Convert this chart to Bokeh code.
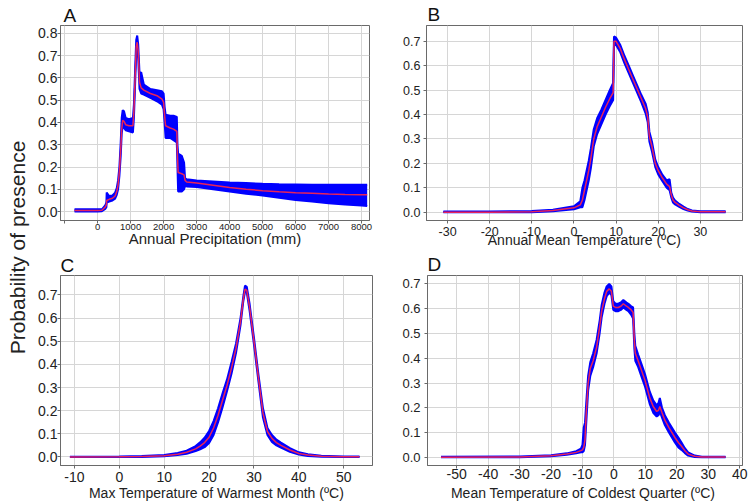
from math import pi
from bokeh.plotting import figure
from bokeh.layouts import row, column
from bokeh.models import FixedTicker, PrintfTickFormatter, Label, Range1d
from bokeh.embed import file_html
from bokeh.resources import INLINE

FONT = "Liberation Sans"
BLUE = "#0000ff"
RED = "#e8235a"

# ---------------- Panel A : Annual Precipitation ----------------
a_x = [-700, 0, 130, 230, 265, 275, 350, 450, 530, 580,
       620, 660, 700, 730, 760, 800, 850, 950, 1070, 1100,
       1140, 1170, 1200, 1230, 1270, 1320, 1400, 1600, 1800, 1950,
       2000, 2030, 2060, 2200, 2300, 2400, 2420, 2440, 2550, 2620,
       2650, 2700, 3000, 3500, 4000, 4500, 5000, 5500, 6000, 6500,
       7000, 7500, 8000, 8170]
a_mean = [0.005, 0.005, 0.006, 0.02, 0.03, 0.05, 0.055, 0.06, 0.07, 0.09,
          0.12, 0.18, 0.28, 0.37, 0.41, 0.405, 0.39, 0.385, 0.385, 0.45,
          0.62, 0.74, 0.76, 0.72, 0.58, 0.555, 0.545, 0.53, 0.52, 0.505,
          0.49, 0.43, 0.385, 0.375, 0.37, 0.36, 0.25, 0.175, 0.17, 0.165,
          0.14, 0.133, 0.128, 0.118, 0.108, 0.10, 0.094, 0.089, 0.085, 0.082,
          0.079, 0.077, 0.076, 0.076]
a_lower = [0.0, 0.0, 0.002, 0.012, 0.02, 0.04, 0.045, 0.05, 0.058, 0.075,
           0.10, 0.16, 0.25, 0.35, 0.385, 0.375, 0.365, 0.36, 0.355, 0.42,
           0.59, 0.71, 0.735, 0.69, 0.55, 0.53, 0.525, 0.51, 0.495, 0.48,
           0.46, 0.40, 0.33, 0.33, 0.32, 0.31, 0.20, 0.09, 0.09, 0.10,
           0.115, 0.113, 0.11, 0.10, 0.09, 0.08, 0.072, 0.062, 0.052, 0.045,
           0.037, 0.032, 0.027, 0.025]
a_upper = [0.01, 0.01, 0.01, 0.028, 0.04, 0.085, 0.07, 0.072, 0.085, 0.105,
           0.14, 0.20, 0.31, 0.42, 0.455, 0.45, 0.42, 0.415, 0.42, 0.48,
           0.65, 0.77, 0.79, 0.75, 0.62, 0.625, 0.57, 0.55, 0.545, 0.54,
           0.53, 0.47, 0.435, 0.43, 0.43, 0.425, 0.30, 0.26, 0.25, 0.22,
           0.15, 0.145, 0.14, 0.135, 0.13, 0.128, 0.125, 0.123, 0.122, 0.12,
           0.12, 0.12, 0.12, 0.12]
a_xticks = [-1000, 0, 1000, 2000, 3000, 4000, 5000, 6000, 7000, 8000]
a_yticks = [0.0, 0.1, 0.2, 0.3, 0.4, 0.5, 0.6, 0.7, 0.8]
a_title = "Annual Precipitation (mm)"

# ---------------- Panel B : Annual Mean Temperature ----------------
b_x = [-31, -20, -10, -5, 0, 1.5, 2.0, 2.5, 3.0, 3.5,
       4.0, 4.7, 5.5, 6.5, 7.5, 8.5, 9.3, 9.5, 10, 11,
       12, 13, 14, 15, 16, 17, 17.5, 17.9, 18.5, 19.3,
       20, 21, 22, 22.7, 23.1, 23.5, 24, 25, 26, 27,
       28, 30, 36]
b_mean = [0.0, 0.0, 0.002, 0.007, 0.018, 0.03, 0.05, 0.09, 0.13, 0.17,
          0.22, 0.30, 0.35, 0.39, 0.43, 0.465, 0.49, 0.70, 0.70, 0.67,
          0.625, 0.585, 0.545, 0.505, 0.465, 0.425, 0.39, 0.31, 0.27, 0.20,
          0.17, 0.14, 0.115, 0.105, 0.07, 0.05, 0.04, 0.028, 0.018, 0.01,
          0.005, 0.002, 0.002]
b_lower = [0.0, 0.0, 0.0, 0.004, 0.012, 0.02, 0.02, 0.05, 0.09, 0.13,
           0.18, 0.27, 0.32, 0.36, 0.40, 0.435, 0.46, 0.685, 0.685, 0.655,
           0.61, 0.57, 0.53, 0.49, 0.45, 0.405, 0.37, 0.29, 0.25, 0.185,
           0.155, 0.127, 0.10, 0.09, 0.06, 0.04, 0.032, 0.022, 0.013, 0.007,
           0.003, 0.0, 0.0]
b_upper = [0.003, 0.003, 0.005, 0.01, 0.024, 0.045, 0.10, 0.13, 0.17, 0.21,
           0.26, 0.34, 0.385, 0.42, 0.46, 0.50, 0.53, 0.72, 0.715, 0.685,
           0.64, 0.60, 0.56, 0.52, 0.48, 0.445, 0.41, 0.33, 0.29, 0.215,
           0.185, 0.153, 0.13, 0.135, 0.08, 0.06, 0.048, 0.034, 0.023, 0.013,
           0.007, 0.004, 0.004]
b_xticks = [-30, -20, -10, 0, 10, 20, 30]
b_yticks = [0.0, 0.1, 0.2, 0.3, 0.4, 0.5, 0.6, 0.7]
b_title = "Annual Mean Temperature (ºC)"

# ---------------- Panel C : Max Temperature of Warmest Month ----------------
c_x = [-11, 0, 5, 10, 13, 15, 17, 18, 19, 20,
       21, 22, 23, 24, 25, 26, 27, 27.6, 28, 28.4,
       29, 30, 31, 32, 33, 34, 35, 36, 38, 40,
       42, 45, 50, 53.5]
c_mean = [0.0, 0.001, 0.002, 0.005, 0.012, 0.02, 0.035, 0.047, 0.062, 0.085,
          0.125, 0.18, 0.245, 0.31, 0.385, 0.47, 0.585, 0.68, 0.725, 0.72,
          0.65, 0.50, 0.34, 0.19, 0.11, 0.08, 0.062, 0.05, 0.03, 0.015,
          0.008, 0.003, 0.001, 0.001]
c_lower = [0.0, 0.0, 0.0, 0.003, 0.008, 0.014, 0.025, 0.033, 0.042, 0.06,
           0.095, 0.15, 0.215, 0.285, 0.36, 0.45, 0.57, 0.67, 0.715, 0.71,
           0.635, 0.485, 0.325, 0.17, 0.095, 0.065, 0.05, 0.04, 0.022, 0.01,
           0.004, 0.001, 0.0, 0.0]
c_upper = [0.001, 0.002, 0.004, 0.008, 0.017, 0.027, 0.047, 0.063, 0.083, 0.112,
           0.155, 0.21, 0.275, 0.335, 0.41, 0.49, 0.60, 0.69, 0.74, 0.735,
           0.665, 0.515, 0.355, 0.21, 0.125, 0.095, 0.075, 0.062, 0.038, 0.02,
           0.012, 0.005, 0.002, 0.002]
c_xticks = [-10, 0, 10, 20, 30, 40, 50]
c_yticks = [0.0, 0.1, 0.2, 0.3, 0.4, 0.5, 0.6, 0.7]
c_title = "Max Temperature of Warmest Month (ºC)"

# ---------------- Panel D : Mean Temperature of Coldest Quarter ----------------
d_x = [-55, -30, -20, -15, -12, -10.5, -10, -9.6, -9.2, -8.8,
       -8.2, -7.5, -6.6, -5.5, -4.5, -3.9, -3.0, -2.3, -1.5, -0.8,
       -0.2, 0.5, 1.4, 2.2, 3.0, 4.0, 4.6, 5.5, 6.1, 6.5,
       6.8, 7.7, 8.8, 9.9, 11.4, 12.5, 13.6, 14.2, 14.6, 15.3,
       16.2, 17.5, 19.4, 20.5, 21.5, 22.5, 23.6, 25.7, 28, 30,
       35.5]
d_mean = [0.0, 0.001, 0.006, 0.013, 0.02, 0.027, 0.03, 0.04, 0.07, 0.18,
          0.30, 0.36, 0.39, 0.445, 0.53, 0.59, 0.64, 0.67, 0.68, 0.67,
          0.61, 0.605, 0.605, 0.61, 0.62, 0.61, 0.605, 0.595, 0.585, 0.47,
          0.42, 0.39, 0.35, 0.31, 0.24, 0.205, 0.185, 0.19, 0.205, 0.18,
          0.15, 0.12, 0.08, 0.06, 0.045, 0.028, 0.013, 0.004, 0.001, 0.001,
          0.001]
d_lower = [0.0, 0.0, 0.004, 0.01, 0.016, 0.02, 0.02, 0.025, 0.05, 0.14,
           0.27, 0.33, 0.365, 0.42, 0.505, 0.565, 0.62, 0.65, 0.665, 0.655,
           0.595, 0.59, 0.59, 0.595, 0.605, 0.595, 0.59, 0.575, 0.56, 0.44,
           0.39, 0.365, 0.325, 0.285, 0.215, 0.18, 0.165, 0.17, 0.185, 0.16,
           0.13, 0.10, 0.06, 0.04, 0.03, 0.018, 0.007, 0.001, 0.0, 0.0,
           0.0]
d_upper = [0.002, 0.003, 0.008, 0.016, 0.025, 0.035, 0.05, 0.12, 0.14, 0.22,
           0.33, 0.385, 0.42, 0.475, 0.555, 0.615, 0.665, 0.69, 0.70, 0.69,
           0.63, 0.62, 0.62, 0.625, 0.635, 0.625, 0.62, 0.61, 0.605, 0.50,
           0.45, 0.415, 0.375, 0.335, 0.265, 0.23, 0.21, 0.22, 0.24, 0.20,
           0.17, 0.14, 0.10, 0.08, 0.06, 0.038, 0.02, 0.007, 0.002, 0.002,
           0.002]
d_xticks = [-50, -40, -30, -20, -10, 0, 10, 20, 30, 40]
d_yticks = [0.0, 0.1, 0.2, 0.3, 0.4, 0.5, 0.6, 0.7]
d_title = "Mean Temperature of Coldest Quarter  (ºC)"

y_title = "Probability of presence"


def panel(x, mean, lo, hi, xr, yr, xticks, yticks, xlabel, letter,
          width, height, bl, br, bt, bb,
          ytick_fs, ytick_so, xtick_fs, xtick_so, xlabel_fs, xlabel_so,
          letter_dx, letter_so, hidden_ticks=()):
    p = figure(width=width, height=height,
               x_range=Range1d(*xr), y_range=Range1d(*yr),
               toolbar_location=None, output_backend="svg",
               min_border_left=bl, min_border_right=br,
               min_border_top=bt, min_border_bottom=bb)
    p.varea(x=x, y1=lo, y2=hi, fill_color=BLUE, fill_alpha=1.0)
    p.line(x, lo, line_color=BLUE, line_width=2)
    p.line(x, hi, line_color=BLUE, line_width=2)
    p.line(x, mean, line_color=RED, line_width=1.5)

    p.xaxis.ticker = FixedTicker(ticks=xticks)
    p.yaxis.ticker = FixedTicker(ticks=yticks)
    p.xaxis.formatter = PrintfTickFormatter(format="%d")
    p.yaxis.formatter = PrintfTickFormatter(format="%.1f")
    if hidden_ticks:
        p.xaxis.major_label_overrides = {t: "" for t in hidden_ticks}
    for ax in (p.xaxis, p.yaxis):
        ax.axis_line_color = "#6a6a6a"
        ax.major_tick_line_color = "#6a6a6a"
        ax.major_tick_out = 3
        ax.major_tick_in = 0
        ax.minor_tick_line_color = None
        ax.major_label_text_font = FONT
        ax.major_label_text_color = "#222222"
    p.yaxis.major_label_text_font_size = ytick_fs
    p.yaxis.major_label_standoff = ytick_so
    p.xaxis.major_label_text_font_size = xtick_fs
    p.xaxis.major_label_standoff = xtick_so
    p.xaxis.axis_label = xlabel
    p.xaxis.axis_label_text_font = FONT
    p.xaxis.axis_label_text_font_style = "normal"
    p.xaxis.axis_label_text_font_size = xlabel_fs
    p.xaxis.axis_label_text_color = "#222222"
    p.xaxis.axis_label_standoff = xlabel_so
    p.grid.grid_line_color = "#d6d6d6"
    p.grid.grid_line_width = 1
    p.outline_line_color = "#6a6a6a"
    p.background_fill_color = "white"
    p.border_fill_color = "white"

    # panel letter as the plot title (upper left, above the frame)
    p.title.text = letter
    p.title.align = "left"
    p.title.text_font = FONT
    p.title.text_font_size = "19px"
    p.title.text_font_style = "normal"
    p.title.text_color = "#111111"
    p.title.offset = letter_dx
    p.title.standoff = letter_so
    return p


pA = panel(a_x, a_mean, a_lower, a_upper, (-1125, 8240), (-0.04, 0.835),
           a_xticks, a_yticks, a_title, "A",
           345, 250, 30, 6, 25, 30,
           "14px", 0, "9.5px", 0, "15px", -3, 3, 0,
           hidden_ticks=(-1000,))
pB = panel(b_x, b_mean, b_lower, b_upper, (-35, 40), (-0.034, 0.765),
           b_xticks, b_yticks, b_title, "B",
           373, 250, 51, 6, 25, 30,
           "12.5px", 3, "12.5px", 3, "14px", -7, 1, 2)
pC = panel(c_x, c_mean, c_lower, c_upper, (-13.1, 56.4), (-0.037, 0.784),
           c_xticks, c_yticks, c_title, "C",
           345, 253, 30, 3, 23, 36,
           "14px", 0, "14px", 3, "14px", 0, 0, 0)
pD = panel(d_x, d_mean, d_lower, d_upper, (-59.3, 40.9), (-0.033, 0.734),
           d_xticks, d_yticks, d_title, "D",
           373, 253, 52, 6, 23, 36,
           "13px", 4, "14px", 0, "14px", 3, 0, 2)

lab = figure(width=30, height=503, x_range=Range1d(0, 30), y_range=Range1d(0, 503),
             toolbar_location=None, output_backend="svg",
             x_axis_location=None, y_axis_location=None,
             min_border_left=0, min_border_right=0,
             min_border_top=0, min_border_bottom=0)
lab.grid.visible = False
lab.outline_line_color = None
lab.add_layout(Label(x=17, y=256, text=y_title, angle=pi / 2,
                     text_font=FONT, text_font_size="21px", text_color="#222222",
                     text_align="center", text_baseline="alphabetic"))

layout = row(lab, column(row(pA, pB), row(pC, pD)))

with open("out.html", "w") as f:
    f.write(file_html(layout, INLINE))
